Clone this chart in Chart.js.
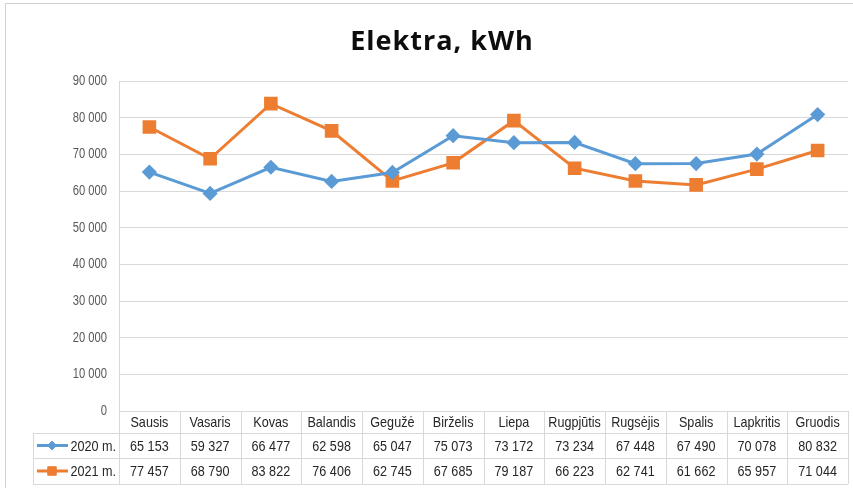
<!DOCTYPE html>
<html>
<head>
<meta charset="utf-8">
<script src="https://cdn.jsdelivr.net/npm/chart.js@4"></script>
<style>
  html, body { margin: 0; padding: 0; background: #fff; overflow: hidden; }
  #wrap { position: relative; width: 853px; height: 488px; overflow: hidden; }
</style>
</head>
<body>
<div id="wrap"><canvas id="chart" width="864" height="488"></canvas></div>
<script>
// Elektra, kWh - suvartojimas pagal menesius
const chartTitle = 'Elektra, kWh';
const months = ['Sausis', 'Vasaris', 'Kovas', 'Balandis', 'Gegužė', 'Birželis', 'Liepa', 'Rugpjūtis', 'Rugsėjis', 'Spalis', 'Lapkritis', 'Gruodis'];
const seriesNames = ['2020 m.', '2021 m.'];
const values2020 = [65153, 59327, 66477, 62598, 65047, 75073, 73172, 73234, 67448, 67490, 70078, 80832];
const values2021 = [77457, 68790, 83822, 76406, 62745, 67685, 79187, 66223, 62741, 61662, 65957, 71044];
const yMin = 0, yMax = 90000, yStep = 10000;

const BLUE = '#5B9BD5';
const ORANGE = '#ED7D31';
const GRID = '#D9D9D9';

const fmt = v => String(v).replace(/\B(?=(\d{3})+(?!\d))/g, ' ');

// tekstas suspaustas horizontaliai (kaip Arial Narrow)
function narrowText(ctx, text, x, y, size, sx, align, color) {
    ctx.save();
    ctx.font = size + 'px "Liberation Sans", Arial, sans-serif';
    ctx.fillStyle = color;
    ctx.textBaseline = 'middle';
    const w = ctx.measureText(text).width * sx;
    let left = x;
    if (align === 'center') left = x - w / 2;
    else if (align === 'right') left = x - w;
    ctx.translate(left, y);
    ctx.scale(sx, 1);
    ctx.textAlign = 'left';
    ctx.fillText(text, 0, 0);
    ctx.restore();
}

const tablePlugin = {
    id: 'dataTable',
    afterDraw(chart) {
        const ctx = chart.ctx;
        const xs = chart.scales.x;
        const ys = chart.scales.y;
        const area = chart.chartArea;

        // remelis
        ctx.save();
        ctx.strokeStyle = '#D0D0D0';
        ctx.lineWidth = 1;
        ctx.strokeRect(5.5, 3.5, 900, 600);
        ctx.restore();

        // pavadinimas
        ctx.save();
        ctx.font = 'bold 27px "Open Sans", sans-serif';
        ctx.fillStyle = '#0D0D0D';
        ctx.textAlign = 'center';
        ctx.textBaseline = 'middle';
        if ('letterSpacing' in ctx) ctx.letterSpacing = '1px';
        ctx.fillText(chartTitle, 442, 42);
        ctx.restore();

        // y asies reiksmes
        ys.ticks.forEach(t => {
            narrowText(ctx, fmt(t.value), area.left - 12, ys.getPixelForValue(t.value), 14, 0.8, 'right', '#595959');
        });

        // lentele
        const colW = (xs.right - xs.left) / months.length;
        const rows = [area.bottom, 433, 458, 484];
        const legLeft = 33;
        ctx.save();
        ctx.strokeStyle = GRID;
        ctx.lineWidth = 1;
        ctx.beginPath();
        ctx.moveTo(area.left, Math.round(rows[0]) + 0.5); ctx.lineTo(xs.right, Math.round(rows[0]) + 0.5);
        for (let r = 1; r < rows.length; r++) {
            ctx.moveTo(legLeft, rows[r] + 0.5); ctx.lineTo(xs.right, rows[r] + 0.5);
        }
        for (let i = 0; i <= months.length; i++) {
            const xx = Math.round(xs.left + colW * i) + 0.5;
            ctx.moveTo(xx, rows[0]); ctx.lineTo(xx, rows[3]);
        }
        ctx.moveTo(legLeft + 0.5, rows[1]); ctx.lineTo(legLeft + 0.5, rows[3]);
        ctx.stroke();
        ctx.restore();

        const rowMid = [(rows[0] + rows[1]) / 2, (rows[1] + rows[2]) / 2, (rows[2] + rows[3]) / 2];
        months.forEach((m, i) => {
            const cx = xs.getPixelForValue(i);
            narrowText(ctx, m, cx, rowMid[0] + 1, 15, 0.84, 'center', '#262626');
            narrowText(ctx, fmt(values2020[i]), cx, rowMid[1] + 1, 15, 0.84, 'center', '#262626');
            narrowText(ctx, fmt(values2021[i]), cx, rowMid[2] + 1, 15, 0.84, 'center', '#262626');
        });

        // legendos raktai
        chart.data.datasets.forEach((ds, k) => {
            const y = rowMid[k + 1];
            ctx.save();
            ctx.strokeStyle = ds.borderColor;
            ctx.lineWidth = 3;
            ctx.beginPath();
            ctx.moveTo(37, y); ctx.lineTo(68, y);
            ctx.stroke();
            ctx.fillStyle = ds.pointBackgroundColor;
            ctx.strokeStyle = ds.pointBorderColor;
            ctx.lineWidth = 1;
            Chart.helpers.drawPoint(ctx, { pointStyle: ds.pointStyle, rotation: 0, borderWidth: 1, radius: ds.pointRadius * 0.8 }, 52, y);
            ctx.restore();
            narrowText(ctx, ds.label, 116, y + 1, 15, 0.84, 'right', '#262626');
        });
    }
};

new Chart(document.getElementById('chart'), {
    type: 'line',
    data: {
        labels: months,
        datasets: [
            {
                label: seriesNames[0],
                data: values2020,
                borderColor: BLUE,
                backgroundColor: BLUE,
                pointBackgroundColor: BLUE,
                pointBorderColor: BLUE,
                pointStyle: 'rectRot',
                pointRadius: 5.5,
                pointHoverRadius: 5.5,
                borderWidth: 3,
                tension: 0
            },
            {
                label: seriesNames[1],
                data: values2021,
                borderColor: ORANGE,
                backgroundColor: ORANGE,
                pointBackgroundColor: ORANGE,
                pointBorderColor: ORANGE,
                pointStyle: 'rect',
                pointRadius: 7.5,
                pointHoverRadius: 7.5,
                borderWidth: 3,
                tension: 0
            }
        ]
    },
    options: {
        responsive: false,
        animation: false,
        layout: { padding: { left: 119, right: 16, top: 81, bottom: 77 } },
        plugins: {
            legend: { display: false },
            title: { display: false },
            tooltip: { enabled: false }
        },
        scales: {
            x: {
                display: false,
                offset: true
            },
            y: {
                min: yMin,
                max: yMax,
                ticks: { stepSize: yStep, display: false },
                grid: { color: GRID, drawTicks: false },
                border: { display: true, color: GRID }
            }
        }
    },
    plugins: [tablePlugin]
});
</script>
</body>
</html>
